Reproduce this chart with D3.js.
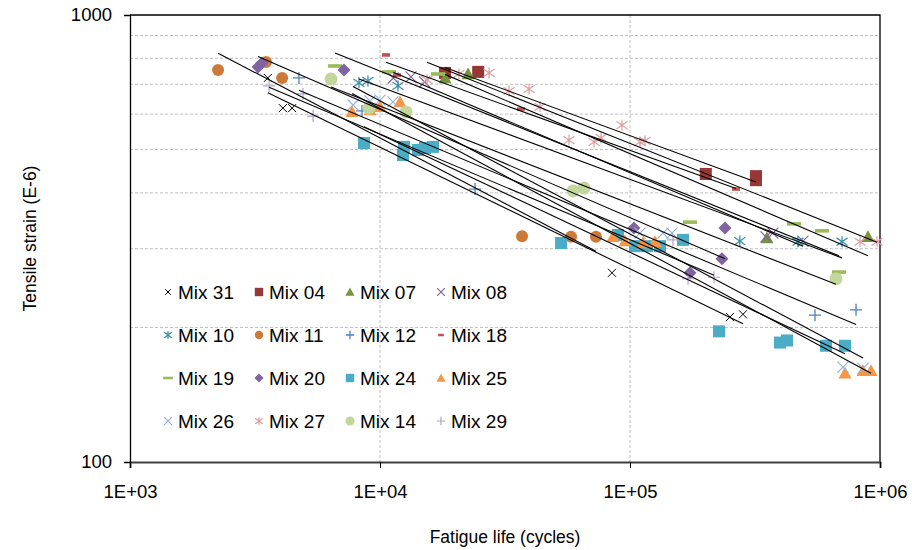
<!DOCTYPE html>
<html>
<head>
<meta charset="utf-8">
<script src="https://cdn.jsdelivr.net/npm/d3@7"></script>
<style>
    body { margin: 0; background: #fff; }
    text { font-family: "Liberation Sans", Arial, sans-serif; }
</style>
</head>
<body>
<div id="chart"></div>
<script>
// fatigue life (cycles), tensile strain (E-6)
var mix31 = [[3560, 723], [4090, 619], [4450, 619], [84700, 265], [251000, 211], [283000, 214]];
var mix04 = [[18200, 742], [24700, 746], [201000, 441], [319000, 436], [319000, 427]];
var mix07 = [[18200, 723], [22500, 738], [353000, 317], [895000, 319]];
var mix08 = [[11300, 723], [13300, 727], [15100, 708], [350000, 319], [373000, 325], [492000, 312]];
var mix10 = [[8240, 705], [8950, 712], [11800, 694], [275000, 312], [470000, 311], [705000, 311]];
var mix11 = [[2250, 753], [3500, 785], [4060, 723], [37000, 320], [58100, 319], [73100, 319]];
var mix12 = [[4740, 723], [8470, 610], [24000, 408], [549500, 213], [802000, 219]];
var mix18 = [[10570, 814], [11700, 734], [36600, 616], [265500, 408]];
var mix19 = [[6610, 769], [10860, 746], [17060, 738], [173800, 344], [452900, 341], [586100, 329], [685500, 266]];
var mix20 = [[3250, 765], [3370, 781], [7180, 753], [103700, 334], [173800, 265], [233300, 285], [239900, 334]];
var mix24 = [[8630, 517], [12470, 507], [12360, 486], [14190, 499], [15140, 504], [16290, 507], [53000, 309],
    [89500, 322], [104700, 304], [117000, 304], [131800, 304], [162900, 314], [227000, 196], [398000, 185],
    [424600, 187], [608000, 182], [724400, 182]];
var mix25 = [[7730, 607], [9120, 613], [10000, 623], [12020, 639], [85500, 319], [95500, 312], [112700, 309],
    [125900, 311], [724400, 158], [855000, 160], [920400, 160]];
var mix26 = [[7800, 629], [9120, 642], [10000, 645], [11270, 639], [109600, 325], [135500, 325], [147200, 325],
    [711000, 163], [855000, 162]];
var mix27 = [[15420, 716], [20700, 738], [27290, 742], [32810, 676], [39450, 683], [43650, 623], [57000, 525],
    [71800, 520], [76560, 531], [92900, 567], [109600, 520], [114800, 523], [831800, 311], [972700, 311]];
var mix14 = [[6370, 719], [9030, 619], [12710, 607], [59200, 404], [65500, 410], [666800, 257]];
var mix29 = [[3600, 694], [4920, 666], [5400, 594], [148600, 314], [170600, 257], [216800, 259]];

var seriesNames = ["Mix 31", "Mix 04", "Mix 07", "Mix 08", "Mix 10", "Mix 11", "Mix 12", "Mix 18",
    "Mix 19", "Mix 20", "Mix 24", "Mix 25", "Mix 26", "Mix 27", "Mix 14", "Mix 29"];
var seriesData = [mix31, mix04, mix07, mix08, mix10, mix11, mix12, mix18,
    mix19, mix20, mix24, mix25, mix26, mix27, mix14, mix29];

var xTicks = [1e3, 1e4, 1e5, 1e6];
var yTicks = [100, 1000];
var yGrid = [200, 300, 400, 500, 600, 700, 800, 900];
var xGrid = [1e4, 1e5];

// marker look per series (same order as seriesNames)
var markerStyle = [
    { shape: "x", color: "#000000", size: 4, sw: 1 },
    { shape: "square", color: "#953735", size: 6 },
    { shape: "triangle", color: "#77933C", size: 6.5 },
    { shape: "x", color: "#8064A2", size: 5.5, sw: 1.2 },
    { shape: "star", color: "#3A90AA", size: 5.5, sw: 1.3 },
    { shape: "circle", color: "#CD7A38", size: 6 },
    { shape: "plus", color: "#4F81BD", size: 6, sw: 1.3 },
    { shape: "dash", color: "#C0504D", size: 4 },
    { shape: "dash", color: "#9BBB59", size: 7 },
    { shape: "diamond", color: "#8064A2", size: 6.5 },
    { shape: "square", color: "#4BACC6", size: 6 },
    { shape: "triangle", color: "#F79646", size: 6.5 },
    { shape: "x", color: "#95B3D7", size: 5.5, sw: 1.2 },
    { shape: "star", color: "#DDA0A0", size: 5.5, sw: 1.2 },
    { shape: "circle", color: "#C3D69B", size: 6.5 },
    { shape: "plus", color: "#B3A2C7", size: 6, sw: 1.2 }
];

var W = 912, H = 550;
var margin = { top: 15, right: 32, bottom: 88, left: 130 };

var svg = d3.select("#chart").append("svg")
    .attr("width", W)
    .attr("height", H);

var x = d3.scaleLog().domain([1e3, 1e6]).range([margin.left, W - margin.right]);
var y = d3.scaleLog().domain([100, 1000]).range([H - margin.bottom, margin.top]);

// gridlines
svg.append("g").selectAll("line").data(yGrid).enter().append("line")
    .attr("x1", x(1e3)).attr("x2", x(1e6))
    .attr("y1", d => y(d)).attr("y2", d => y(d))
    .style("stroke", "#bfbfbf").style("stroke-dasharray", "3,2").style("stroke-width", 1);
svg.append("g").selectAll("line").data(xGrid).enter().append("line")
    .attr("x1", d => x(d)).attr("x2", d => x(d))
    .attr("y1", y(1000)).attr("y2", y(100))
    .style("stroke", "#bfbfbf").style("stroke-dasharray", "3,2").style("stroke-width", 1);

// top and right border
svg.append("path")
    .attr("d", "M" + x(1e3) + "," + y(1000) + "H" + x(1e6) + "V" + y(100))
    .style("fill", "none").style("stroke", "#000").style("stroke-width", 1.3);

function drawMarker(g, cx, cy, st, scale) {
    var s = st.size * (scale || 1);
    var c = st.color;
    switch (st.shape) {
        case "square":
            g.append("rect").attr("x", cx - s).attr("y", cy - s).attr("width", 2 * s).attr("height", 2 * s)
                .style("fill", c);
            break;
        case "circle":
            g.append("circle").attr("cx", cx).attr("cy", cy).attr("r", s).style("fill", c);
            break;
        case "triangle":
            g.append("path").attr("d", "M" + cx + "," + (cy - s) + "L" + (cx + s) + "," + (cy + s * 0.8) +
                "L" + (cx - s) + "," + (cy + s * 0.8) + "Z").style("fill", c);
            break;
        case "diamond":
            g.append("path").attr("d", "M" + cx + "," + (cy - s) + "L" + (cx + s) + "," + cy +
                "L" + cx + "," + (cy + s) + "L" + (cx - s) + "," + cy + "Z").style("fill", c);
            break;
        case "dash":
            g.append("rect").attr("x", cx - s).attr("y", cy - 1.8 * (scale || 1)).attr("width", 2 * s)
                .attr("height", 3.6 * (scale || 1)).style("fill", c);
            break;
        case "x":
            g.append("path").attr("d", "M" + (cx - s) + "," + (cy - s) + "L" + (cx + s) + "," + (cy + s) +
                "M" + (cx - s) + "," + (cy + s) + "L" + (cx + s) + "," + (cy - s))
                .style("stroke", c).style("stroke-width", st.sw).style("fill", "none");
            break;
        case "plus":
            g.append("path").attr("d", "M" + (cx - s) + "," + cy + "H" + (cx + s) +
                "M" + cx + "," + (cy - s) + "V" + (cy + s))
                .style("stroke", c).style("stroke-width", st.sw).style("fill", "none");
            break;
        case "star":
            g.append("path").attr("d", "M" + (cx - s) + "," + (cy - s * 0.7) + "L" + (cx + s) + "," + (cy + s * 0.7) +
                "M" + (cx - s) + "," + (cy + s * 0.7) + "L" + (cx + s) + "," + (cy - s * 0.7) +
                "M" + cx + "," + (cy - s) + "V" + (cy + s))
                .style("stroke", c).style("stroke-width", st.sw).style("fill", "none");
            break;
    }
}

// points
var pts = svg.append("g").attr("class", "points");
seriesData.forEach(function (data, i) {
    var g = pts.append("g");
    data.forEach(function (d) {
        drawMarker(g, x(d[0]), y(d[1]), markerStyle[i]);
    });
});

// power trendlines (least squares in log-log), spanning each series' range
var lines = svg.append("g").attr("class", "trend");
seriesData.forEach(function (data) {
    var lx = data.map(d => Math.log10(d[0])), ly = data.map(d => Math.log10(d[1]));
    var mx = d3.mean(lx), my = d3.mean(ly);
    var sxy = d3.sum(lx, (v, k) => (v - mx) * (ly[k] - my));
    var sxx = d3.sum(lx, v => (v - mx) * (v - mx));
    var b = sxy / sxx, a = my - b * mx;
    var ext = d3.extent(data, d => d[0]);
    var fit = n => Math.pow(10, a + b * Math.log10(n));
    lines.append("line")
        .attr("x1", x(ext[0])).attr("y1", y(fit(ext[0])))
        .attr("x2", x(ext[1])).attr("y2", y(fit(ext[1])))
        .style("stroke", "#000").style("stroke-width", 1.1);
});

// axes
var xAxis = svg.append("g")
    .attr("transform", "translate(0," + y(100) + ")")
    .call(d3.axisBottom(x).tickValues(xTicks).tickSize(6).tickPadding(17)
        .tickFormat(d => "1E+0" + Math.round(Math.log10(d))));
xAxis.select(".domain").style("stroke", "#404040").style("stroke-width", 2);
xAxis.selectAll("text").style("font-size", "18.5px").style("fill", "#000");

var yAxis = svg.append("g")
    .attr("transform", "translate(" + x(1e3) + ",0)")
    .call(d3.axisLeft(y).tickValues(yTicks).tickSize(6).tickPadding(12).tickFormat(d3.format("d")));
yAxis.select(".domain").style("stroke", "#000").style("stroke-width", 1.3);
yAxis.selectAll("text").style("font-size", "18.5px").style("fill", "#000");

svg.append("text")
    .attr("x", (x(1e3) + x(1e6)) / 2)
    .attr("y", 543)
    .style("text-anchor", "middle")
    .style("font-size", "17.5px")
    .text("Fatigue life (cycles)");

svg.append("text")
    .attr("transform", "translate(36," + (y(100) + y(1000)) / 2 + ") rotate(-90)")
    .style("text-anchor", "middle")
    .style("font-size", "17.5px")
    .text("Tensile strain (E-6)");

// legend, 4 x 4
var legend = svg.append("g").attr("class", "legend");
seriesNames.forEach(function (name, i) {
    var col = i % 4, row = Math.floor(i / 4);
    var lx = 168 + col * 91, ly = 292 + row * 43;
    drawMarker(legend, lx, ly, markerStyle[i], 0.7);
    legend.append("text")
        .attr("x", lx + 10).attr("y", ly)
        .attr("dy", "0.36em")
        .style("font-size", "19px")
        .text(name);
});
</script>
</body>
</html>
